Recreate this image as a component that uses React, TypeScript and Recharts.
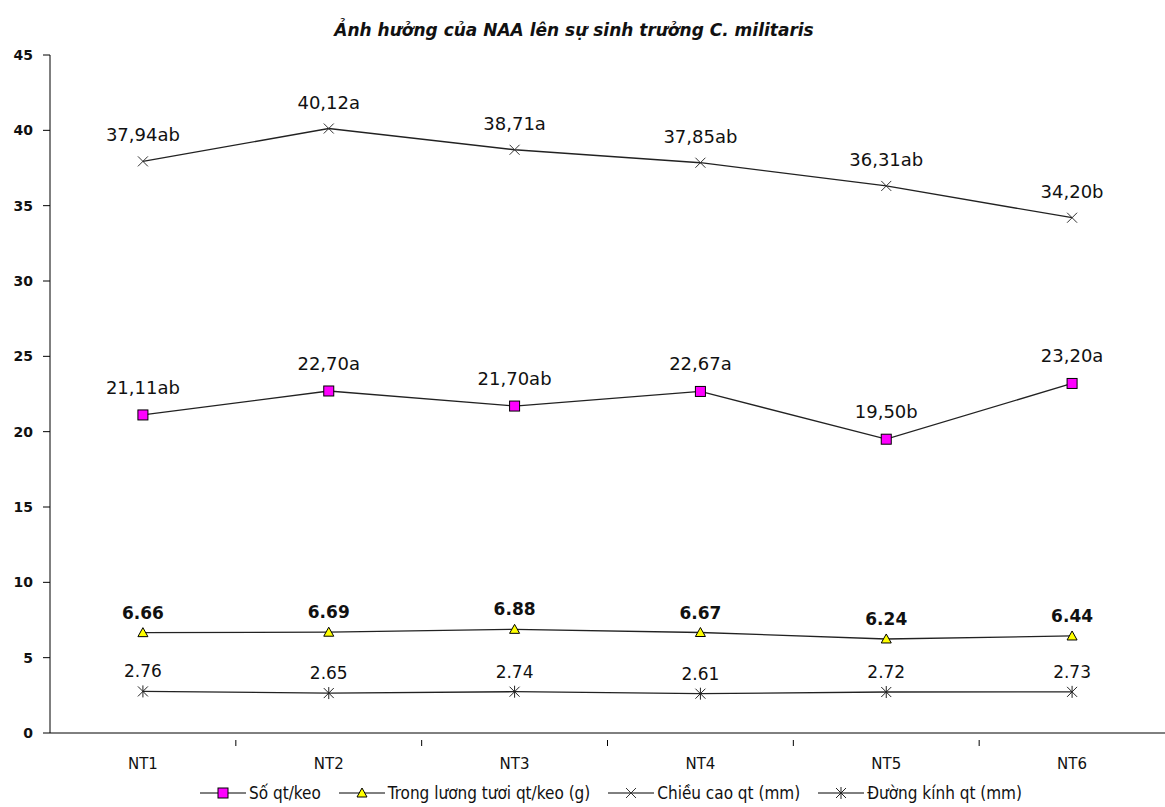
import { LineChart, Line, XAxis, YAxis, Legend, LabelList } from 'recharts'

// ── data ─────────────────────────────────────────────────────────────────────

const categories = ['NT1', 'NT2', 'NT3', 'NT4', 'NT5', 'NT6']

const soQt = [21.11, 22.7, 21.7, 22.67, 19.5, 23.2]
const soQtLabels = ['21,11ab', '22,70a', '21,70ab', '22,67a', '19,50b', '23,20a']

const trongLuong = [6.66, 6.69, 6.88, 6.67, 6.24, 6.44]
const trongLuongLabels = ['6.66', '6.69', '6.88', '6.67', '6.24', '6.44']

const chieuCao = [37.94, 40.12, 38.71, 37.85, 36.31, 34.2]
const chieuCaoLabels = ['37,94ab', '40,12a', '38,71a', '37,85ab', '36,31ab', '34,20b']

const duongKinh = [2.76, 2.65, 2.74, 2.61, 2.72, 2.73]
const duongKinhLabels = ['2.76', '2.65', '2.74', '2.61', '2.72', '2.73']

const yTicks = [0, 5, 10, 15, 20, 25, 30, 35, 40, 45]

const seriesNames = {
  soQt: 'Số qt/keo',
  trongLuong: 'Trong lương tươi qt/keo (g)',
  chieuCao: 'Chiều cao qt (mm)',
  duongKinh: 'Đường kính qt (mm)',
}

const data = categories.map((name, i) => ({
  name,
  soQt: soQt[i],
  soQtLabel: soQtLabels[i],
  trongLuong: trongLuong[i],
  trongLuongLabel: trongLuongLabels[i],
  chieuCao: chieuCao[i],
  chieuCaoLabel: chieuCaoLabels[i],
  duongKinh: duongKinh[i],
  duongKinhLabel: duongKinhLabels[i],
}))

// ── layout ───────────────────────────────────────────────────────────────────

const W = 1165
const H = 807
const Y_AXIS_W = 50
const BAND = (W - Y_AXIS_W) / categories.length
const FONT = '"DejaVu Sans", Verdana, sans-serif'
const NARROW = '"Liberation Sans Narrow", "DejaVu Sans Condensed", "Arial Narrow", sans-serif'
const LINE = '#222'

// ── markers ──────────────────────────────────────────────────────────────────

function SquareDot({ cx, cy }: any) {
  if (cx == null || cy == null) return null
  return <rect x={cx - 5} y={cy - 5} width={10} height={10} fill="#FF00FF" stroke="#000" strokeWidth={1} />
}

function TriangleDot({ cx, cy }: any) {
  if (cx == null || cy == null) return null
  return (
    <polygon
      points={`${cx},${cy - 5} ${cx + 5},${cy + 4} ${cx - 5},${cy + 4}`}
      fill="#FFFF00"
      stroke="#000"
      strokeWidth={1}
    />
  )
}

function CrossDot({ cx, cy }: any) {
  if (cx == null || cy == null) return null
  return (
    <g stroke="#333" strokeWidth={1}>
      <line x1={cx - 5} y1={cy - 5} x2={cx + 5} y2={cy + 5} />
      <line x1={cx - 5} y1={cy + 5} x2={cx + 5} y2={cy - 5} />
    </g>
  )
}

function StarDot({ cx, cy }: any) {
  if (cx == null || cy == null) return null
  return (
    <g stroke="#222" strokeWidth={1}>
      <line x1={cx - 5} y1={cy - 5} x2={cx + 5} y2={cy + 5} />
      <line x1={cx - 5} y1={cy + 5} x2={cx + 5} y2={cy - 5} />
      <line x1={cx} y1={cy - 6} x2={cx} y2={cy + 6} />
    </g>
  )
}

// ── labels & ticks ───────────────────────────────────────────────────────────

function makeLabel(dy: number, size: number, bold = false) {
  return ({ x, y, value }: any) => (
    <text
      x={x}
      y={y - dy}
      textAnchor="middle"
      fontFamily={FONT}
      fontSize={size}
      fontWeight={bold ? 'bold' : 'normal'}
      fill="#111"
    >
      {value}
    </text>
  )
}

function XTick({ x, y, payload, index }: any) {
  return (
    <g>
      <text x={x} y={y + 28} textAnchor="middle" fontFamily={FONT} fontSize={15} fill="#111">
        {payload.value}
      </text>
      {index < categories.length - 1 && (
        <line x1={x + BAND / 2} y1={y - 1} x2={x + BAND / 2} y2={y + 5} stroke="#000" />
      )}
    </g>
  )
}

function LegendContent() {
  const items = [
    { name: seriesNames.soQt, Dot: SquareDot },
    { name: seriesNames.trongLuong, Dot: TriangleDot },
    { name: seriesNames.chieuCao, Dot: CrossDot },
    { name: seriesNames.duongKinh, Dot: StarDot },
  ]
  return (
    <div
      style={{
        height: 30,
        boxSizing: 'border-box',
        paddingTop: 10,
        paddingLeft: 200,
        display: 'flex',
        alignItems: 'center',
      }}
    >
      {items.map(({ name, Dot }) => (
        <div key={name} style={{ display: 'flex', alignItems: 'center', marginRight: 18, height: 20 }}>
          <svg width={46} height={14}>
            <line x1={0} y1={7} x2={46} y2={7} stroke="#000" />
            <Dot cx={23} cy={7} />
          </svg>
          <span style={{ fontFamily: NARROW, fontSize: 17, marginLeft: 3, color: '#111', whiteSpace: 'nowrap' }}>
            {name}
          </span>
        </div>
      ))}
    </div>
  )
}

// ── component ────────────────────────────────────────────────────────────────

export default function App() {
  return (
    <div style={{ position: 'absolute', left: 0, top: 0, width: W, height: H, background: '#fff' }}>
      <div
        style={{
          position: 'absolute',
          top: 20,
          left: 0,
          width: 1148,
          textAlign: 'center',
          fontFamily: FONT,
          fontSize: 17,
          fontWeight: 'bold',
          fontStyle: 'italic',
          color: '#111',
        }}
      >
        Ảnh hưởng của NAA lên sự sinh trưởng C. militaris
      </div>
      <LineChart width={W} height={H} data={data} margin={{ top: 55, right: 0, bottom: 4, left: 0 }}>
        <XAxis
          dataKey="name"
          height={40}
          padding={{ left: BAND / 2, right: BAND / 2 }}
          axisLine={{ stroke: '#000' }}
          tickLine={false}
          tick={<XTick />}
          interval={0}
        />
        <YAxis
          width={Y_AXIS_W}
          domain={[0, 45]}
          ticks={yTicks}
          interval={0}
          axisLine={{ stroke: '#000' }}
          tickLine={{ stroke: '#000' }}
          tickSize={7}
          tickMargin={10}
          tick={{ fill: '#111', fontSize: 14, fontWeight: 'bold', fontFamily: FONT }}
        />
        <Legend verticalAlign="bottom" content={<LegendContent />} />
        <Line
          dataKey="chieuCao"
          name={seriesNames.chieuCao}
          stroke={LINE}
          strokeWidth={1.3}
          dot={<CrossDot />}
          isAnimationActive={false}
        >
          <LabelList dataKey="chieuCaoLabel" content={makeLabel(20, 18)} />
        </Line>
        <Line
          dataKey="soQt"
          name={seriesNames.soQt}
          stroke={LINE}
          strokeWidth={1.3}
          dot={<SquareDot />}
          isAnimationActive={false}
        >
          <LabelList dataKey="soQtLabel" content={makeLabel(21, 18)} />
        </Line>
        <Line
          dataKey="trongLuong"
          name={seriesNames.trongLuong}
          stroke={LINE}
          strokeWidth={1.3}
          dot={<TriangleDot />}
          isAnimationActive={false}
        >
          <LabelList dataKey="trongLuongLabel" content={makeLabel(14, 17, true)} />
        </Line>
        <Line
          dataKey="duongKinh"
          name={seriesNames.duongKinh}
          stroke={LINE}
          strokeWidth={1.3}
          dot={<StarDot />}
          isAnimationActive={false}
        >
          <LabelList dataKey="duongKinhLabel" content={makeLabel(14, 17)} />
        </Line>
      </LineChart>
    </div>
  )
}
